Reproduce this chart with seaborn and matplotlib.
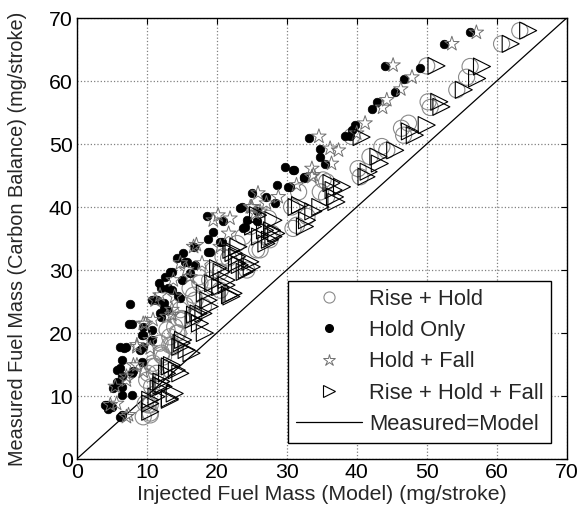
import numpy as np
import pandas as pd
import matplotlib
matplotlib.use("Agg")
import matplotlib.pyplot as plt
import seaborn as sns
from matplotlib.lines import Line2D

# ---- data ----
rise_hold_x = [10.5, 10.5, 10.7, 11.4, 11.2, 11.9, 12.4, 13.8, 13.3, 14.0, 14.8, 15.0, 16.7, 16.9, 16.2,
               17.4, 18.1, 19.5, 20.5, 20.9, 22.9, 23.8, 24.3, 26.2, 27.6, 27.9, 27.4, 30.7, 31.4, 30.9,
               31.7, 32.9, 34.8, 35.2, 35.7, 35.7, 40.2, 40.5, 41.9, 43.6, 44.3, 46.4, 46.7, 47.4, 39.3,
               50.0, 50.2, 50.5, 54.3, 55.7, 56.2, 60.7, 63.3, 10.9, 10.2, 12.1, 13.3, 14.5, 9.5, 10.2,
               10.9, 12.1, 13.6, 14.3, 15.2, 15.5, 10.0, 9.8, 10.5, 12.9, 11.9,
               21.7, 25.7, 19.5, 17.6, 19.0, 20.5, 16.7, 24.8]
rise_hold_y = [8.6, 7.3, 11.5, 13.6, 14.7, 18.4, 16.2, 17.8, 19.4, 21.0, 23.7, 22.3, 22.6, 25.2, 27.1,
               28.9, 24.2, 27.3, 29.7, 32.1, 34.2, 35.3, 30.0, 33.2, 34.8, 35.8, 38.2, 40.0, 37.1, 36.6,
               42.4, 38.5, 42.4, 44.3, 44.0, 41.6, 46.1, 44.8, 48.0, 49.6, 49.0, 52.5, 51.4, 53.3, 51.2,
               62.4, 56.7, 55.8, 58.6, 60.6, 62.3, 65.9, 68.0, 15.2, 13.6, 16.8, 18.1, 20.0, 6.7, 8.6,
               14.7, 16.5, 18.1, 20.0, 22.1, 24.4, 12.5, 8.8, 7.0, 20.5, 12.2,
               31.9, 33.2, 30.0, 27.9, 28.4, 26.8, 26.0, 36.9]

hold_only_x = [4.0, 4.5, 5.2, 5.7, 6.2, 6.2, 6.4, 6.4, 6.2, 7.1, 7.4, 7.9, 7.6, 7.9, 9.0, 9.3, 9.3, 9.5,
               10.7, 10.7, 11.7, 12.1, 12.1, 12.9, 13.1, 13.3, 14.3, 14.5, 15.2, 15.5, 16.2, 16.9, 18.6,
               19.0, 19.5, 20.5, 20.9, 23.3, 23.6, 23.8, 24.3, 25.0, 25.7, 27.1, 28.3, 28.6, 30.2, 30.9,
               29.8, 31.0, 32.5, 30.4, 32.4, 33.2, 34.8, 34.8, 35.5, 38.3, 39.0, 39.3, 39.8, 42.2, 42.9,
               44.0, 45.5, 46.7, 49.0, 52.5, 56.2, 7.9,
               6.7, 9.5, 10.7, 5.7, 6.4, 9.5, 8.1, 6.4, 4.3, 5.0, 6.4, 12.4, 12.4, 11.9,
               18.8, 18.8, 20.7, 16.7, 15.7, 13.6, 12.6, 15.0, 13.6, 14.8, 11.4, 24.0, 25.7]
hold_only_y = [8.6, 8.0, 11.2, 12.3, 17.8, 14.4, 15.7, 10.2, 6.7, 17.8, 21.4, 21.4, 24.6, 13.6, 17.3,
               15.4, 19.7, 21.0, 18.9, 25.2, 27.9, 27.1, 22.6, 23.7, 27.1, 29.7, 31.9, 25.8, 32.7, 31.3,
               29.5, 30.8, 38.5, 32.9, 36.1, 34.5, 37.7, 39.8, 40.0, 36.6, 37.9, 42.2, 39.3, 41.6, 40.6,
               43.5, 43.2, 45.9, 46.4, 45.8, 44.6, 43.1, 44.8, 51.0, 49.2, 48.0, 46.8, 51.2, 51.3, 52.2,
               53.0, 55.5, 56.6, 62.4, 58.3, 60.3, 62.1, 65.8, 67.7, 10.2,
               17.6, 19.7, 20.5, 14.1, 13.1, 17.8, 13.9, 11.5, 8.6, 8.3, 7.0, 24.7, 23.9, 23.1,
               35.0, 32.9, 34.5, 33.7, 31.3, 29.7, 28.9, 28.4, 26.8, 25.5, 25.2, 36.9, 37.7]

hold_fall_x = [4.8, 7.1, 5.5, 7.1, 8.6, 8.6, 10.5, 9.8, 11.2, 11.9, 13.8, 14.8, 16.7, 15.7, 19.5, 21.7,
               20.5, 25.0, 27.1, 21.9, 13.6, 12.9, 25.9, 28.8, 25.0, 26.2, 31.4, 33.6, 33.6, 33.8, 34.6,
               36.2, 37.4, 36.4, 40.0, 41.2, 43.7, 44.3, 45.2, 46.3, 47.9, 53.6, 57.1,
               9.5, 8.6, 8.1, 7.1, 5.7, 7.4, 10.5, 10.9, 13.6, 9.5,
               20.2, 17.1, 17.9, 16.2, 14.0, 24.8, 25.5]
hold_fall_y = [8.6, 6.7, 11.5, 13.1, 14.9, 17.8, 18.9, 21.5, 25.2, 26.0, 28.4, 31.1, 33.7, 30.0, 37.9,
               35.8, 33.7, 40.0, 40.6, 38.2, 23.7, 22.6, 42.2, 41.6, 40.0, 39.3, 43.5, 44.8, 46.1, 45.1,
               51.2, 49.3, 49.0, 46.9, 51.7, 53.3, 55.8, 57.0, 62.5, 58.7, 60.6, 65.9, 67.7,
               21.5, 18.1, 14.9, 12.5, 8.8, 7.0, 17.6, 22.1, 22.9, 13.9,
               38.7, 34.0, 31.1, 28.9, 25.8, 40.0, 39.0]

rise_hold_fall_x = [10.5, 10.5, 11.4, 12.4, 13.3, 12.1, 13.3, 14.3, 15.0, 15.7, 16.9, 17.6, 18.3, 18.8,
                    18.3, 20.5, 21.4, 21.9, 20.2, 22.1, 22.9, 23.3, 24.3, 25.2, 25.9, 26.9, 27.6, 28.5,
                    22.4, 22.9, 21.4, 22.4, 28.1, 28.1, 31.9, 32.9, 33.8, 34.8, 36.7, 37.1, 31.4, 32.6,
                    36.4, 37.9, 36.9, 40.7, 41.4, 41.7, 43.1, 43.3, 45.5, 47.6, 48.3, 50.0, 51.4, 51.8,
                    52.1, 55.3, 57.2, 57.9, 62.0, 64.5,
                    10.5, 11.7, 12.1, 13.3, 13.6, 14.8, 14.8, 15.2, 16.4, 16.7, 17.4, 18.1, 12.9, 14.0,
                    23.1, 24.8, 25.0, 24.0, 20.7, 19.5, 22.1, 19.0, 26.2, 27.9, 27.1]
rise_hold_fall_y = [8.8, 7.5, 9.9, 11.5, 9.4, 12.3, 14.7, 14.1, 18.4, 17.3, 22.9, 21.5, 26.3, 25.2,
                    20.0, 27.3, 27.6, 26.0, 30.3, 33.2, 32.1, 30.8, 30.0, 36.9, 38.7, 36.3, 34.8, 35.8,
                    32.7, 31.1, 28.4, 26.3, 35.3, 37.9, 40.3, 37.9, 39.3, 40.0, 42.7, 40.8, 40.0, 36.9,
                    43.8, 43.2, 41.6, 51.1, 44.8, 45.6, 48.0, 46.9, 49.0, 52.0, 51.4, 53.0, 62.4, 56.7,
                    55.9, 58.6, 60.4, 62.3, 65.9, 68.0,
                    9.4, 11.2, 11.7, 9.6, 14.9, 13.6, 17.8, 18.9, 16.8, 22.1, 23.1, 23.1, 13.6, 10.4,
                    33.7, 31.3, 30.5, 29.7, 29.7, 27.9, 25.8, 24.2, 35.3, 36.3, 34.2]

line_x = [0, 70]
line_y = [0, 70]

ticks = [0, 10, 20, 30, 40, 50, 60, 70]
xlabel = "Injected Fuel Mass (Model) (mg/stroke)"
ylabel = "Measured Fuel Mass (Carbon Balance) (mg/stroke)"
labels = ["Rise + Hold", "Hold Only", "Hold + Fall", "Rise + Hold + Fall", "Measured=Model"]

# ---- plotting ----
sns.set_theme(style="white")
plt.rcParams["font.family"] = ["Liberation Sans", "DejaVu Sans"]
plt.rcParams["font.size"] = 15

fig = plt.figure(figsize=(5.83, 5.25), dpi=100)
ax = fig.add_axes([0.1316, 0.1257, 0.8404, 0.84])

ax.grid(True, linestyle=":", color="#808080", linewidth=0.9)
ax.set_axisbelow(True)

sns.lineplot(x=line_x, y=line_y, ax=ax, color="black", linewidth=0.9, legend=False, zorder=1)

sns.scatterplot(x=rise_hold_x, y=rise_hold_y, ax=ax, marker="o", s=135,
                facecolor="none", edgecolor="#8a8a8a", linewidth=0.8, zorder=2)
sns.scatterplot(x=hold_only_x, y=hold_only_y, ax=ax, marker="o", s=38,
                color="black", edgecolor="black", linewidth=0.5, zorder=3)
sns.scatterplot(x=hold_fall_x, y=hold_fall_y, ax=ax, marker="*", s=120,
                facecolor="none", edgecolor="#707070", linewidth=0.7, zorder=3)
sns.scatterplot(x=rise_hold_fall_x, y=rise_hold_fall_y, ax=ax, marker=">", s=150,
                facecolor="none", edgecolor="black", linewidth=0.8, zorder=4)

ax.set_xlim(0, 70)
ax.set_ylim(0, 70)
ax.set_xticks(ticks)
ax.set_yticks(ticks)
ax.tick_params(direction="in", length=4, width=0.8, top=True, right=True,
               labelsize=15.3, colors="black", pad=3)
for sp in ax.spines.values():
    sp.set_color("black")
    sp.set_linewidth(1.0)

ax.set_xlabel(xlabel, fontsize=15.3, labelpad=2)
ax.set_ylabel(ylabel, fontsize=14.3, labelpad=16)

handles = [
    Line2D([], [], linestyle="none", marker="o", markersize=8, markerfacecolor="none",
           markeredgecolor="#8a8a8a", markeredgewidth=0.8),
    Line2D([], [], linestyle="none", marker="o", markersize=5.5, markerfacecolor="black",
           markeredgecolor="black"),
    Line2D([], [], linestyle="none", marker="*", markersize=9, markerfacecolor="none",
           markeredgecolor="#707070", markeredgewidth=0.7),
    Line2D([], [], linestyle="none", marker=">", markersize=9, markerfacecolor="none",
           markeredgecolor="black", markeredgewidth=0.8),
    Line2D([], [], color="black", linewidth=0.9),
]
leg = ax.legend(handles, labels, loc="lower right", bbox_to_anchor=(0.969, 0.037),
                fontsize=15.8, frameon=True, fancybox=False, framealpha=1,
                edgecolor="black", handlelength=3.0, handletextpad=0.35,
                labelspacing=0.47, borderpad=0.35, borderaxespad=0)
leg.get_frame().set_linewidth(1.0)

fig.savefig("out.png", dpi=100)
